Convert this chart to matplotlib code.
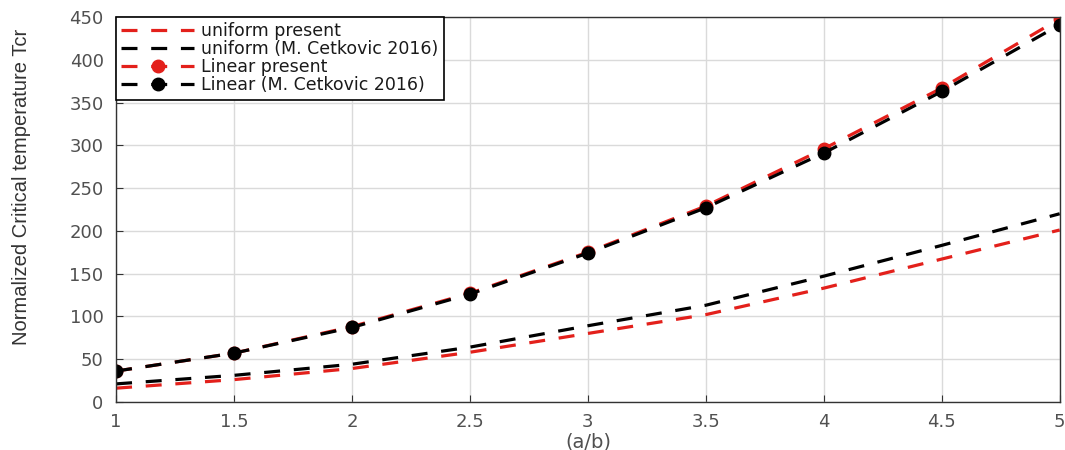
import matplotlib
matplotlib.use('Agg')
import matplotlib.pyplot as plt

ab = [1, 1.5, 2, 2.5, 3, 3.5, 4, 4.5, 5]
uniform_present = [16, 26, 39, 58, 80, 102, 133, 167, 201]
uniform_cetkovic = [21, 31, 44, 64, 89, 113, 147, 183, 220]
linear_present = [36, 57, 88, 127, 175, 229, 296, 367, 448]
linear_cetkovic = [36, 57, 87, 126, 174, 227, 291, 363, 441]
xtick_labels = ['1', '1.5', '2', '2.5', '3', '3.5', '4', '4.5', '5']

plt.rcParams['font.family'] = ['DejaVu Sans']

fig = plt.figure(figsize=(10.65, 4.5), dpi=100)
ax = fig.add_axes([0.109, 0.107, 0.886, 0.855])

red = '#e3201b'
dash = (5, 4.3)
lw = 2.3
ax.plot(ab, uniform_present, color=red, lw=lw, dashes=dash, label='uniform present')
ax.plot(ab, uniform_cetkovic, color='black', lw=lw, dashes=dash, label='uniform (M. Cetkovic 2016)')
ax.plot(ab, linear_present, color=red, lw=lw, dashes=dash, marker='o', markersize=9,
        label='Linear present')
ax.plot(ab, linear_cetkovic, color='black', lw=lw, dashes=dash, marker='o', markersize=9,
        label='Linear (M. Cetkovic 2016)')

ax.set_xlim(1, 5)
ax.set_ylim(0, 450)
ax.set_xticks(ab)
ax.set_xticklabels(xtick_labels)
ax.set_yticks(range(0, 451, 50))
ax.tick_params(direction='in', length=5, labelsize=13, labelcolor='#505050', color='#333333')
ax.tick_params(axis='x', pad=8)
ax.tick_params(axis='y', pad=9)
ax.grid(color='#dadada', lw=1)
ax.set_axisbelow(True)
for s in ax.spines.values():
    s.set_color('#333333')
    s.set_linewidth(1)

ax.set_xlabel('(a/b)', fontsize=14, color='#505050', labelpad=1)
ax.set_ylabel('Normalized Critical temperature Tcr', fontsize=14.5, color='#333333',
              family=['Liberation Sans', 'DejaVu Sans'])
ax.yaxis.set_label_coords(-0.09, 0.56)

leg = ax.legend(loc='upper left', fontsize=12.5, handlelength=4.2, handletextpad=0.4,
                borderaxespad=0, borderpad=0.3, labelspacing=0.0, fancybox=False,
                framealpha=1, edgecolor='black')
leg.get_frame().set_linewidth(1.2)
for t in leg.get_texts():
    t.set_color('#1a1a1a')

fig.savefig('out.png', dpi=100)
